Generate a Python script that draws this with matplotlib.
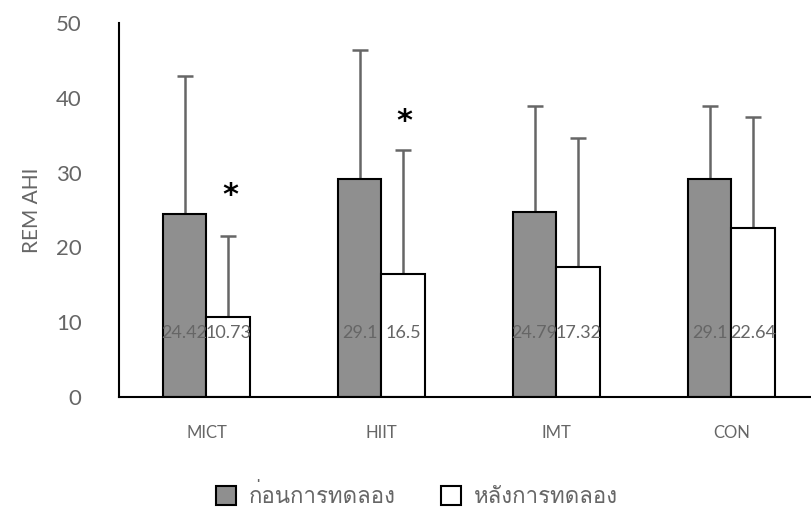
import matplotlib
matplotlib.use('Agg')
import matplotlib.pyplot as plt
import numpy as np
from matplotlib import font_manager
from matplotlib.patches import Patch
from fontTools.ttLib import TTFont

# Data
groups = ['MICT', 'HIIT', 'IMT', 'CON']
pre = [24.42, 29.1, 24.79, 29.1]
post = [10.73, 16.5, 17.32, 22.64]
pre_sd = [18.5, 17.3, 14.1, 9.8]
post_sd = [10.8, 16.5, 17.3, 14.8]
legend_labels = ['ก่อนการทดลอง', 'หลังการทดลอง']

# look for an installed font that has Thai glyphs
thai_font = None
for f in font_manager.fontManager.ttflist:
    try:
        cmap = TTFont(f.fname, fontNumber=0, lazy=True).getBestCmap()
    except Exception:
        continue
    if cmap and 0x0E01 in cmap:
        thai_font = f.name
        break

families = ['Lato']
if thai_font:
    families.append(thai_font)
families.append('DejaVu Sans')
plt.rcParams['font.family'] = families

txt = '#666666'
x = np.arange(len(groups))
w = 0.25

fig = plt.figure(figsize=(8.11, 5.14), dpi=100)
ax = fig.add_axes([0.1467, 0.2276, 0.863, 0.7277])

ax.bar(x - w / 2, pre, w, color='#8f8f8f', edgecolor='black', linewidth=1.5, zorder=2)
ax.bar(x + w / 2, post, w, color='white', edgecolor='black', linewidth=1.5, zorder=2)
ax.errorbar(x - w / 2, pre, yerr=[np.zeros(4), pre_sd], fmt='none', ecolor='#666666',
            elinewidth=1.8, capsize=6, capthick=1.8, zorder=1)
ax.errorbar(x + w / 2, post, yerr=[np.zeros(4), post_sd], fmt='none', ecolor='#666666',
            elinewidth=1.8, capsize=6, capthick=1.8, zorder=1)

for i in range(len(groups)):
    ax.text(x[i] - w / 2, 8.5, f'{pre[i]:g}', ha='center', va='center', color=txt, fontsize=13, zorder=3)
    ax.text(x[i] + w / 2, 8.5, f'{post[i]:g}', ha='center', va='center', color=txt, fontsize=13, zorder=3)

# significance marks
ax.text(0 + w / 2 + 0.012, 27.0, '*', ha='center', va='center', fontsize=22,
        fontweight='bold', color='black', family='DejaVu Sans')
ax.text(1 + w / 2 + 0.006, 36.8, '*', ha='center', va='center', fontsize=22,
        fontweight='bold', color='black', family='DejaVu Sans')

ax.set_xlim(-0.5, 3.5)
ax.set_ylim(0, 50)
ax.set_yticks([0, 10, 20, 30, 40, 50])
ax.set_xticks(x)
ax.set_xticklabels(groups)
ax.tick_params(axis='y', length=0, pad=27, labelsize=16, labelcolor=txt)
ax.tick_params(axis='x', length=0, pad=20, labelsize=12, labelcolor=txt)
ax.set_ylabel('REM AHI', color=txt, fontsize=15, labelpad=10)

for s in ['top', 'right']:
    ax.spines[s].set_visible(False)
ax.spines['left'].set_linewidth(1.5)
ax.spines['bottom'].set_linewidth(1.5)

handles = [Patch(facecolor='#8f8f8f', edgecolor='black', linewidth=1.5),
           Patch(facecolor='white', edgecolor='black', linewidth=1.5)]
fig.legend(handles, legend_labels, loc='center', bbox_to_anchor=(0.514, 0.037), ncol=2,
           frameon=False, fontsize=16, labelcolor=txt, handlelength=0.9, handleheight=0.9,
           handletextpad=0.6, columnspacing=2.0)

fig.savefig('out.png', dpi=100)
